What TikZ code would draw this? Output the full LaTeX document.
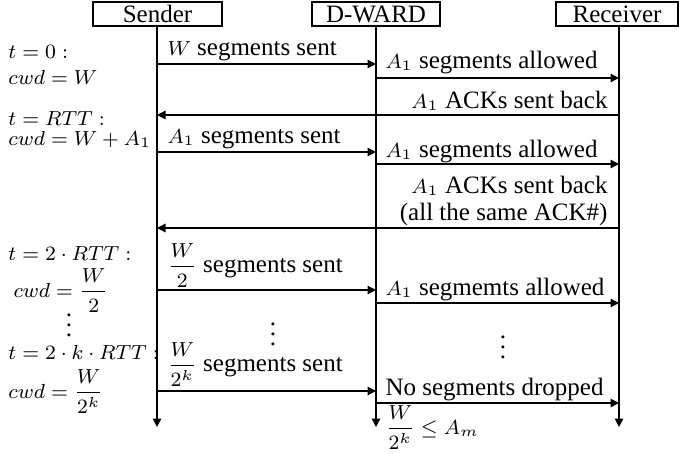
\RequirePackage{fix-cm}
\documentclass[tikz,border=0pt]{standalone}
\usepackage{amsmath}
\usepackage[no-math]{fontspec}
\setmainfont{Liberation Serif}
\DeclareMathSizes{10}{8.15}{5.8}{4.4}
\usetikzlibrary{arrows.meta}
\begin{document}
\begin{tikzpicture}[x=0.4pt,y=-0.4pt,
  actor/.style={draw,line width=0.45pt,inner sep=0pt,minimum height=9.6pt},
  life/.style={line width=0.5pt,-{Triangle[length=3.4pt,width=3.4pt]}},
  msg/.style={line width=0.5pt,-{Triangle[length=3.4pt,width=3.4pt]}},
  lbl/.style={inner sep=0pt},
  every node/.style={font=\fontsize{10}{12}\selectfont}]
\useasboundingbox (0,0) rectangle (679,453);
% actors
\node[actor,minimum width=51.6pt] (S) at (157.5,14) {Sender};
\node[actor,minimum width=51.2pt] (D) at (376,14) {D-WARD};
\node[actor,minimum width=48.8pt] (R) at (617,14) {Receiver};
% lifeline ends
\coordinate (Se) at (157,427);
\coordinate (De) at (376,427);
\coordinate (Re) at (619,427);
\draw[life] (S.south -| Se) -- (Se);
\draw[life] (D.south -| De) -- (De);
\draw[life] (R.south -| Re) -- (Re);
% messages
\draw[msg] (Se |- 0,64) -- (De |- 0,64);
\draw[msg] (De |- 0,78) -- (Re |- 0,78);
\draw[msg] (Re |- 0,115) -- (Se |- 0,115);
\draw[msg] (Se |- 0,152) -- (De |- 0,152);
\draw[msg] (De |- 0,164) -- (Re |- 0,164);
\draw[msg] (Re |- 0,228) -- (Se |- 0,228);
\draw[msg] (Se |- 0,290) -- (De |- 0,290);
\draw[msg] (De |- 0,303) -- (Re |- 0,303);
\draw[msg] (Se |- 0,391) -- (De |- 0,391);
\draw[msg] (De |- 0,403) -- (Re |- 0,403);
% message labels
\node[lbl,anchor=base west] (m1) at (167,55) {$W$ segments sent};
\node[lbl,anchor=base west] (m2) at (385,68) {$A_1$ segments allowed};
\node[lbl,anchor=base east] (m3) at (608,108) {$A_1$ ACKs sent back};
\node[lbl,anchor=base west] (m4) at (167,143) {$A_1$ segments sent};
\node[lbl,anchor=base west] (m5) at (385,157) {$A_1$ segments allowed};
\node[lbl,anchor=base east] (m6) at (608,193) {$A_1$ ACKs sent back};
\node[lbl,anchor=base east] (m6b) at (608,220) {(all the same ACK\#)};
\node[lbl,anchor=base west] (m7) at (167,272) {$\dfrac{W}{2}$ segments sent};
\node[lbl,anchor=base west] (m8) at (385,295) {$A_1$ segmemts allowed};
\node[lbl] (v1) at (273,327) {$\vdots$};
\node[lbl] (v2) at (503,340) {$\vdots$};
\node[lbl,anchor=base west] (m9) at (167,371) {$\dfrac{W}{2^k}$ segments sent};
\node[lbl,anchor=base west] (m10) at (385,395) {No segments dropped};
\node[lbl,anchor=base west] (m11) at (385,434) {$\dfrac{W}{2^k}\le A_m$};
% left labels
\node[lbl,anchor=base west] (l1) at (8,58) {$t=0:$};
\node[lbl,anchor=base west] (l2) at (8,84) {$cwd=W$};
\node[lbl,anchor=base west] (l3) at (8,125) {$t=RTT:$};
\node[lbl,anchor=base west] (l4) at (8,145) {$cwd=W+A_1$};
\node[lbl,anchor=base west] (l5) at (8,260) {$t=2\cdot RTT:$};
\node[lbl,anchor=base west] (l6) at (13,297) {$cwd=\dfrac{W}{2}$};
\node[lbl] (v3) at (69,318) {$\vdots$};
\node[lbl,anchor=base west] (l7) at (8,359) {$t=2\cdot k\cdot RTT:$};
\node[lbl,anchor=base west] (l8) at (8,398) {$cwd=\dfrac{W}{2^k}$};
\end{tikzpicture}
\end{document}
